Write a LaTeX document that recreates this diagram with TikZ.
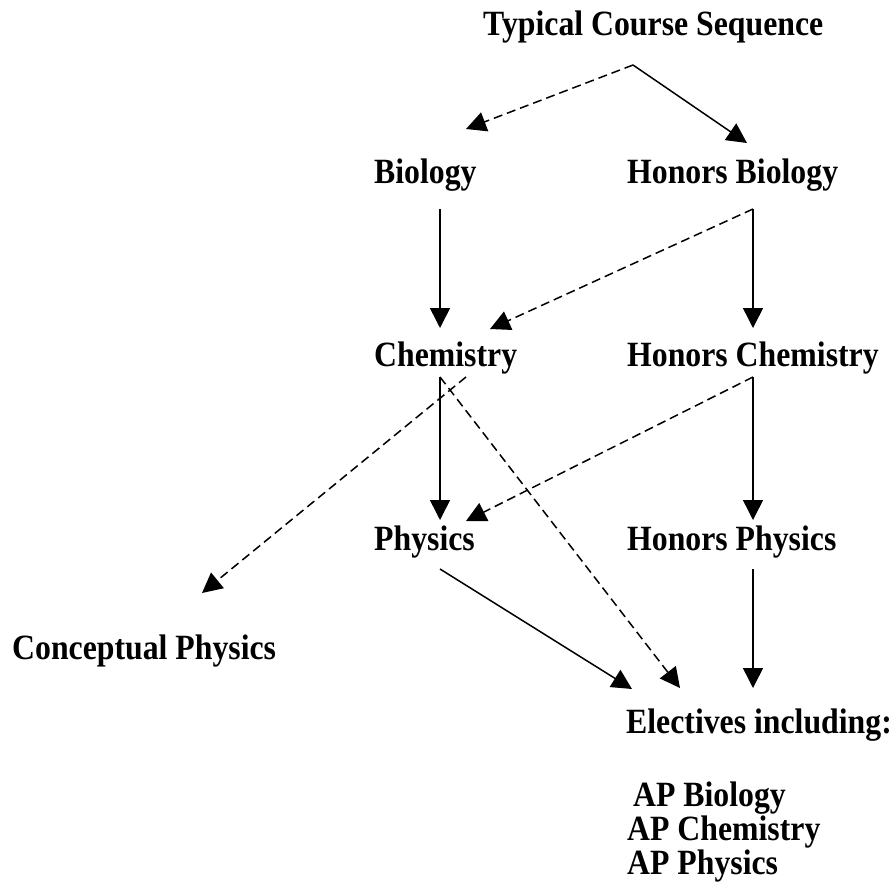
\documentclass[tikz,border=0pt]{standalone}
\usepackage{fontspec}
\setmainfont{Liberation Serif}[FakeStretch=0.895]
\usetikzlibrary{arrows.meta}
\begin{document}
\begin{tikzpicture}[x=1pt,y=-1pt,
  lbl/.style={anchor=base west,inner sep=0pt,font=\fontsize{35.5}{36}\selectfont\bfseries},
  link/.style={line width=1.5pt,-{Triangle[length=20pt,width=20pt]}},
  dlink/.style={link,dash pattern=on 9pt off 5pt}]
\useasboundingbox (0,0) rectangle (896,888);
% texts
\node[lbl] (tcs) at (483,36) {Typical Course Sequence};
\node[lbl] (bio) at (374,183) {Biology};
\node[lbl] (hbio) at (627,183) {Honors Biology};
\node[lbl] (chem) at (374,366) {Chemistry};
\node[lbl] (hchem) at (627,366) {Honors Chemistry};
\node[lbl] (phys) at (374,550) {Physics};
\node[lbl] (hphys) at (627,550) {Honors Physics};
\node[lbl] (cphys) at (12,659) {Conceptual Physics};
\node[lbl] (elec) at (626,733) {Electives including:};
\node[lbl] (apb) at (633,806) {AP Biology};
\node[lbl] (apc) at (627,840) {AP Chemistry};
\node[lbl] (app) at (627,874) {AP Physics};
% connector ends
\coordinate (tcs-o) at (633,65);
\coordinate (bio-i) at (466,129);
\coordinate (hbio-i) at (747,143);
\coordinate (bio-o) at (440,209);
\coordinate (hbio-o) at (753,209);
\coordinate (chem-i) at (440,328);
\coordinate (chem-i2) at (490,329);
\coordinate (hchem-i) at (753,328);
\coordinate (chem-o) at (440,377);
\coordinate (chem-o2) at (466,377);
\coordinate (hchem-o) at (753,377);
\coordinate (phys-i) at (440,520);
\coordinate (phys-i2) at (466,521);
\coordinate (hphys-i) at (753,520);
\coordinate (cphys-i) at (202,593);
\coordinate (phys-o) at (440,569);
\coordinate (hphys-o) at (753,569);
\coordinate (elec-i1) at (632,689);
\coordinate (elec-i2) at (680,688);
\coordinate (elec-i3) at (753,688);
% connectors
\draw[dlink] (tcs-o) -- (bio-i);
\draw[link] (tcs-o) -- (hbio-i);
\draw[link] (bio-o) -- (chem-i);
\draw[link] (hbio-o) -- (hchem-i);
\draw[dlink] (hbio-o) -- (chem-i2);
\draw[link] (chem-o) -- (phys-i);
\draw[link] (hchem-o) -- (hphys-i);
\draw[dlink] (hchem-o) -- (phys-i2);
\draw[dlink] (chem-o2) -- (cphys-i);
\draw[dlink] (chem-o) -- (elec-i2);
\draw[link] (phys-o) -- (elec-i1);
\draw[link] (hphys-o) -- (elec-i3);
\end{tikzpicture}
\end{document}
